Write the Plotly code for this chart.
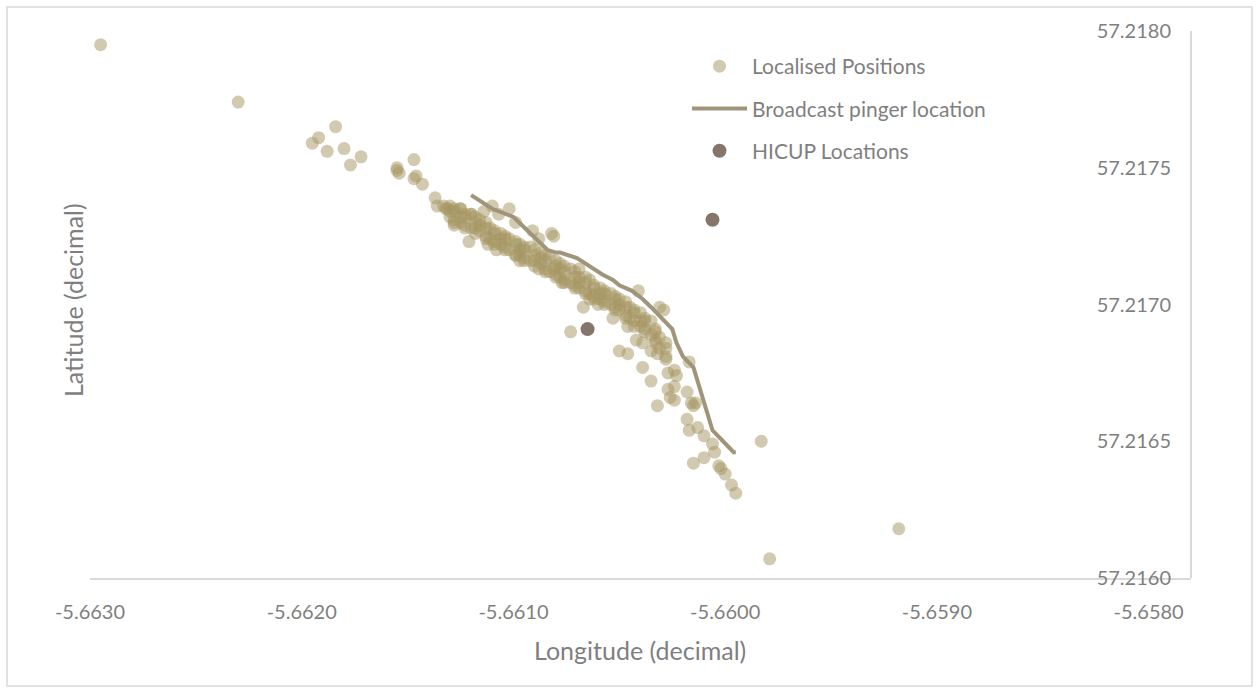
import plotly.graph_objects as go

# ---------------- data ----------------
x_ticks = [-5.6630, -5.6620, -5.6610, -5.6600, -5.6590, -5.6580]
y_ticks = [57.2160, 57.2165, 57.2170, 57.2175, 57.2180]

# scattered localised positions
sparse_lon = [-5.66295, -5.66230, -5.66195, -5.66192, -5.66184, -5.66188, -5.66180, -5.66172, -5.66177,
              -5.66155, -5.66155, -5.66154, -5.66147, -5.66146, -5.66147, -5.66143, -5.66137, -5.66136,
              -5.66133, -5.66132, -5.66131, -5.66130, -5.66128, -5.66125, -5.66120, -5.66121, -5.66114,
              -5.66110, -5.66107, -5.66102, -5.66099, -5.66112, -5.66108, -5.66097, -5.66091, -5.66088,
              -5.66082, -5.66081, -5.66088, -5.66081, -5.66069, -5.66077, -5.66067, -5.66073, -5.66064,
              -5.66060, -5.66053, -5.66046, -5.66041, -5.66031, -5.66029, -5.66050, -5.66046, -5.66042,
              -5.66039, -5.66039, -5.66035, -5.66035, -5.66032, -5.66027, -5.66024, -5.66023, -5.66017,
              -5.66027, -5.66024, -5.66026, -5.66024, -5.66018, -5.66032, -5.66016, -5.66014, -5.66015,
              -5.66018, -5.66017, -5.66013, -5.66010, -5.66006, -5.66005, -5.66015, -5.66010, -5.66003,
              -5.66002, -5.66000, -5.65997, -5.65995, -5.65983, -5.65918, -5.65979]
sparse_lat = [57.21795, 57.21774, 57.21759, 57.21761, 57.21765, 57.21756, 57.21757, 57.21754, 57.21751,
              57.21750, 57.21749, 57.21748, 57.21753, 57.21747, 57.21746, 57.21744, 57.21739, 57.21736,
              57.21736, 57.21735, 57.21735, 57.21734, 57.21729, 57.21735, 57.21733, 57.21723, 57.21734,
              57.21736, 57.21733, 57.21735, 57.21730, 57.21722, 57.21720, 57.21716, 57.21727, 57.21724,
              57.21726, 57.21725, 57.21713, 57.21713, 57.21713, 57.21708, 57.21699, 57.21690, 57.21702,
              57.21700, 57.21695, 57.21692, 57.21705, 57.21699, 57.21698, 57.21683, 57.21682, 57.21687,
              57.21686, 57.21677, 57.21672, 57.21683, 57.21682, 57.21675, 57.21676, 57.21674, 57.21679,
              57.21669, 57.21670, 57.21666, 57.21665, 57.21668, 57.21663, 57.21664, 57.21664, 57.21663,
              57.21658, 57.21654, 57.21655, 57.21652, 57.21649, 57.21646, 57.21642, 57.21644, 57.21641,
              57.21640, 57.21638, 57.21634, 57.21631, 57.21650, 57.21618, 57.21607]

# dense band of localised positions (overlapping dots)
band_lon = [-5.66130, -5.66130, -5.66128, -5.66128, -5.66125, -5.66125, -5.66123, -5.66123, -5.66120, -5.66120,
            -5.66118, -5.66118, -5.66116, -5.66116, -5.66113, -5.66113, -5.66111, -5.66111, -5.66109, -5.66109,
            -5.66106, -5.66106, -5.66104, -5.66104, -5.66102, -5.66102, -5.66099, -5.66099, -5.66097, -5.66097,
            -5.66095, -5.66095, -5.66092, -5.66092, -5.66090, -5.66090, -5.66087, -5.66087, -5.66085, -5.66085,
            -5.66083, -5.66083, -5.66080, -5.66080, -5.66078, -5.66078, -5.66076, -5.66076, -5.66073, -5.66073,
            -5.66071, -5.66071, -5.66069, -5.66069, -5.66066, -5.66066, -5.66064, -5.66064, -5.66062, -5.66062,
            -5.66059, -5.66059, -5.66057, -5.66057, -5.66054, -5.66054, -5.66052, -5.66052, -5.66050, -5.66050,
            -5.66047, -5.66047, -5.66045, -5.66045, -5.66043, -5.66043, -5.66040, -5.66040, -5.66038, -5.66038,
            -5.66035, -5.66035, -5.66033, -5.66033, -5.66031, -5.66031, -5.66028, -5.66028,
            -5.66125, -5.66116, -5.66106, -5.66097, -5.66087, -5.66078, -5.66069, -5.66059, -5.66050, -5.66040,
            -5.66128, -5.66128, -5.66123, -5.66123, -5.66118, -5.66118, -5.66113, -5.66113, -5.66109, -5.66109,
            -5.66104, -5.66104, -5.66099, -5.66099, -5.66095, -5.66095, -5.66090, -5.66090, -5.66085, -5.66085,
            -5.66080, -5.66080, -5.66076, -5.66076, -5.66071, -5.66071, -5.66066, -5.66066, -5.66062, -5.66062,
            -5.66057, -5.66057, -5.66052, -5.66052, -5.66047, -5.66047, -5.66043, -5.66043, -5.66038, -5.66038,
            -5.66033, -5.66033, -5.66028, -5.66028]
band_lat = [57.21736, 57.21732, 57.21735, 57.21731, 57.21735, 57.21730, 57.21733, 57.21729, 57.21733, 57.21728,
            57.21732, 57.21728, 57.21731, 57.21727, 57.21730, 57.21725, 57.21728, 57.21724, 57.21727, 57.21723,
            57.21726, 57.21722, 57.21725, 57.21721, 57.21724, 57.21720, 57.21723, 57.21718, 57.21722, 57.21718,
            57.21721, 57.21717, 57.21721, 57.21716, 57.21720, 57.21716, 57.21719, 57.21715, 57.21718, 57.21713,
            57.21717, 57.21712, 57.21716, 57.21711, 57.21715, 57.21710, 57.21714, 57.21709, 57.21713, 57.21708,
            57.21712, 57.21707, 57.21710, 57.21706, 57.21710, 57.21705, 57.21709, 57.21704, 57.21707, 57.21703,
            57.21706, 57.21702, 57.21705, 57.21701, 57.21704, 57.21700, 57.21703, 57.21699, 57.21702, 57.21698,
            57.21701, 57.21696, 57.21699, 57.21695, 57.21698, 57.21694, 57.21697, 57.21692, 57.21695, 57.21691,
            57.21694, 57.21689, 57.21691, 57.21687, 57.21688, 57.21684, 57.21686, 57.21681,
            57.21732, 57.21729, 57.21724, 57.21720, 57.21717, 57.21713, 57.21708, 57.21704, 57.21700, 57.21694,
            57.21734, 57.21730, 57.21732, 57.21728, 57.21730, 57.21726, 57.21728, 57.21724, 57.21726, 57.21722,
            57.21724, 57.21720, 57.21722, 57.21718, 57.21720, 57.21716, 57.21718, 57.21714, 57.21716, 57.21712,
            57.21714, 57.21710, 57.21712, 57.21708, 57.21710, 57.21706, 57.21708, 57.21704, 57.21706, 57.21702,
            57.21704, 57.21700, 57.21702, 57.21698, 57.21699, 57.21695, 57.21697, 57.21692, 57.21694, 57.21690,
            57.21690, 57.21686, 57.21684, 57.21680]

# broadcast pinger track
pinger_lon = [-5.66120, -5.66116, -5.66110, -5.66100, -5.66096, -5.66092, -5.66088, -5.66084, -5.66080,
              -5.66078, -5.66070, -5.66064, -5.66058, -5.66053, -5.66050, -5.66044, -5.66039, -5.66035,
              -5.66031, -5.66025, -5.66023, -5.66020, -5.66015, -5.66013, -5.66010, -5.66008, -5.66006,
              -5.66001, -5.65996, -5.65995]
pinger_lat = [57.21740, 57.21738, 57.21735, 57.21732, 57.21729, 57.21726, 57.21723, 57.21720, 57.21719,
              57.21719, 57.21717, 57.21714, 57.21711, 57.21709, 57.21707, 57.21705, 57.21702, 57.21699,
              57.21696, 57.21691, 57.21686, 57.21681, 57.21677, 57.21672, 57.21665, 57.21659, 57.21654,
              57.21650, 57.21646, 57.21646]

# HICUP locations
hicup_lon = [-5.66006, -5.66065]
hicup_lat = [57.21731, 57.21691]

# ---------------- figure ----------------
FONT = "Lato, 'Open Sans', sans-serif"
GREY = "#7f7f7f"
AXIS = "#d9d9d9"

fig = go.Figure()
fig.add_trace(go.Scatter(
    x=sparse_lon + band_lon, y=sparse_lat + band_lat, mode="markers",
    name="Localised Positions", legendgroup="a",
    marker=dict(size=13, color="rgba(165,150,98,0.50)", line=dict(width=0)),
))
fig.add_trace(go.Scatter(
    x=pinger_lon, y=pinger_lat, mode="lines",
    name="Broadcast pinger location", legendgroup="b",
    line=dict(color="#a0957a", width=4),
))
fig.add_trace(go.Scatter(
    x=hicup_lon, y=hicup_lat, mode="markers",
    name="HICUP Locations", legendgroup="c",
    marker=dict(size=14, color="#84766b", line=dict(width=0)),
))

L, R, T, B = 90, 67, 31, 115
W, H = 1258, 693
pw, ph = W - L - R, H - T - B

def px2paper_x(px):
    return (px - L) / pw

def px2paper_y(py):
    return (H - B - py) / ph

fig.update_layout(
    width=W, height=H, autosize=False,
    margin=dict(l=L, r=R, t=T, b=B),
    paper_bgcolor="white", plot_bgcolor="white",
    font=dict(family=FONT, color=GREY, size=20),
    showlegend=True,
    legend=dict(
        x=px2paper_x(687), y=px2paper_y(46), xanchor="left", yanchor="top",
        bgcolor="rgba(0,0,0,0)", font=dict(size=21, color=GREY, family=FONT),
        tracegroupgap=12, itemwidth=55,
    ),
    xaxis=dict(
        range=[-5.6630, -5.6578], tickvals=x_ticks,
        ticktext=[f"{v:.4f}" for v in x_ticks],
        showgrid=False, zeroline=False, showline=True, linecolor=AXIS, linewidth=2,
        ticks="", ticklabelstandoff=15, tickfont=dict(size=20, color=GREY, family=FONT),
    ),
    yaxis=dict(
        range=[57.2160, 57.2180], tickvals=y_ticks,
        ticktext=[f"{v:.4f}" for v in y_ticks],
        side="left", anchor="free", position=px2paper_x(1171),
        showgrid=False, zeroline=False, showline=False,
        ticks="", tickfont=dict(size=20, color=GREY, family=FONT),
    ),
    annotations=[
        dict(text="Longitude (decimal)", xref="paper", yref="paper",
             x=px2paper_x(640), y=px2paper_y(650), xanchor="center", yanchor="middle",
             showarrow=False, font=dict(size=25, color=GREY, family=FONT)),
        dict(text="Latitude (decimal)", xref="paper", yref="paper",
             x=px2paper_x(73), y=px2paper_y(300), xanchor="center", yanchor="middle",
             textangle=-90, showarrow=False, font=dict(size=25, color=GREY, family=FONT)),
    ],
    shapes=[
        dict(type="rect", xref="paper", yref="paper",
             x0=px2paper_x(7), x1=px2paper_x(1252), y0=px2paper_y(686), y1=px2paper_y(7),
             line=dict(color=AXIS, width=1.5), fillcolor="rgba(0,0,0,0)", layer="below"),
        dict(type="line", xref="paper", yref="paper", x0=1, x1=1, y0=0, y1=1,
             line=dict(color=AXIS, width=2), layer="below"),
    ],
)

fig.write_html(
    "out.html",
    config={"displayModeBar": False},
    post_script="document.body.style.margin='0';document.body.style.overflow='hidden';",
)
